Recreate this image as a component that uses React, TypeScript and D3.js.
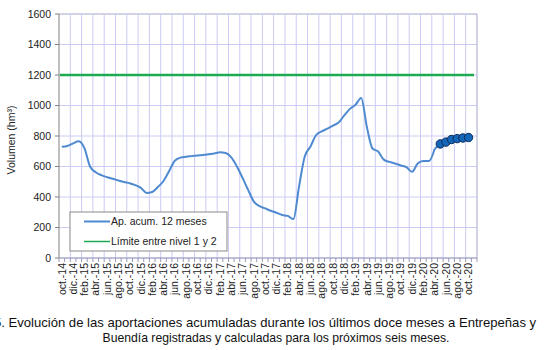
import React from "react";
import * as d3 from "d3";

const monthNames = ["oct.", "nov.", "dic.", "ene.", "feb.", "mar.", "abr.", "may.", "jun.", "jul.", "ago.", "sep."];
const startYear = 14;
const totalMonths = 74; // oct-14 .. nov-20 (axis span)

const historic: number[] = [
  730, 735, 752, 765, 720, 600, 562, 543, 530, 520, 508, 498,
  490, 478, 460, 427, 433, 465, 505, 570, 638, 658, 664, 668,
  672, 676, 680, 686, 693, 688, 660, 600, 525, 445, 370, 340,
  325, 310, 297, 282, 276, 255, 470, 665, 730, 805, 830, 848,
  868, 888, 935, 978, 1005, 1050, 860, 718, 698, 645, 630, 620,
  607, 596, 565, 620, 636, 636, 715,
];
const forecast: number[] = [748, 760, 777, 783, 787, 790];
const limitValue = 1200;
const yTicks = [0, 200, 400, 600, 800, 1000, 1200, 1400, 1600];

const legendLabels = ["Ap. acum. 12 meses", "Límite entre nivel 1 y 2"];
const captionLines = [
  "5. Evolución de las aportaciones acumuladas durante los últimos doce meses a Entrepeñas y",
  "Buendía registradas y calculadas para los próximos seis meses.",
];
const yTitle = "Volumen (hm³)";

function monthLabel(i: number) {
  const m = i % 12;
  const yr = startYear + Math.floor((i + 9) / 12);
  return `${monthNames[m]}-${yr}`;
}

export default function App() {
  const W = 545, H = 350;
  const x = d3.scaleLinear().domain([0, totalMonths]).range([59, 477]);
  const y = d3.scaleLinear().domain([0, 1600]).range([258, 14]);
  const cx = (i: number) => x(i + 0.5);

  const histPts: [number, number][] = historic.map((v, i) => [cx(i), y(v)]);
  const fcStart = historic.length;
  const fcPts: [number, number][] = [
    [cx(fcStart - 1), y(historic[historic.length - 1])],
    ...forecast.map((v, j) => [cx(fcStart + j), y(v)] as [number, number]),
  ];
  const line = d3.line().curve(d3.curveMonotoneX);

  const gridX = d3.range(2, totalMonths + 1, 2);
  const monthTicks = d3.range(0, totalMonths + 1);
  const labelIdx = d3.range(0, historic.length + forecast.length, 2);

  const font = "'Liberation Sans', Arial, sans-serif";
  const gridColor = "#cbcbf6";
  const blue = "#4f8ad0";
  const green = "#1eaa50";

  return (
    <svg width={W} height={H} style={{ position: "absolute", left: 0, top: 0, background: "#fff" }} fontFamily={font}>
      {yTicks.map((t) => (
        <line key={"h" + t} x1={x(0)} x2={x(totalMonths)} y1={y(t)} y2={y(t)} stroke={t === 1600 ? "#a6a6cc" : gridColor} strokeWidth={1} />
      ))}
      {gridX.map((k) => (
        <line key={"v" + k} x1={x(k)} x2={x(k)} y1={y(1600)} y2={y(0)} stroke={k === totalMonths ? "#a6a6cc" : gridColor} strokeWidth={1} />
      ))}
      <line x1={x(0)} x2={x(0)} y1={y(1600)} y2={y(0)} stroke="#808080" strokeWidth={1} />
      <line x1={x(0)} x2={x(totalMonths)} y1={y(0)} y2={y(0)} stroke="#9a9ab8" strokeWidth={1} />
      {yTicks.map((t) => (
        <g key={"yt" + t}>
          <line x1={x(0) - 4} x2={x(0)} y1={y(t)} y2={y(t)} stroke="#808080" />
          <text x={x(0) - 8} y={y(t)} dy="0.35em" textAnchor="end" fontSize={10.5} fill="#222">{t}</text>
        </g>
      ))}
      {monthTicks.map((k) => (
        <line key={"mt" + k} x1={x(k)} x2={x(k)} y1={y(0)} y2={y(0) + 4} stroke="#9a9ab8" />
      ))}
      {labelIdx.map((i) => (
        <text key={"xl" + i} transform={`translate(${cx(i)},${y(0) + 5}) rotate(-90)`} dy="0.35em" textAnchor="end" fontSize={10.5} fill="#222">
          {monthLabel(i)}
        </text>
      ))}
      <text transform={`translate(15,${y(800) + 4}) rotate(-90)`} textAnchor="middle" fontSize={10.5} fill="#222">{yTitle}</text>

      <line x1={x(0) + 1} x2={x(totalMonths) - 3} y1={y(limitValue)} y2={y(limitValue)} stroke={green} strokeWidth={2.5} />

      <path d={line(histPts) || ""} fill="none" stroke={blue} strokeWidth={2} />
      <path d={line(fcPts) || ""} fill="none" stroke={blue} strokeWidth={2} />
      {forecast.map((v, j) => (
        <circle key={"c" + j} cx={cx(fcStart + j)} cy={y(v)} r={4.2} fill="#1565b8" stroke="#0b2d5c" strokeWidth={1} />
      ))}

      <rect x={70} y={212} width={157} height={39} fill="#fff" stroke="#8a8a8a" strokeWidth={1} />
      <line x1={84} x2={110} y1={221.5} y2={221.5} stroke={blue} strokeWidth={2} />
      <text x={111} y={221.5} dy="0.35em" fontSize={10.5} fill="#222">{legendLabels[0]}</text>
      <line x1={84} x2={110} y1={241.5} y2={241.5} stroke={green} strokeWidth={1.5} />
      <text x={111} y={241.5} dy="0.35em" fontSize={10.5} fill="#222">{legendLabels[1]}</text>

      <text x={265} y={327} textAnchor="middle" fontSize={13.1} fill="#111">{captionLines[0]}</text>
      <text x={276} y={342} textAnchor="middle" fontSize={12.2} fill="#111">{captionLines[1]}</text>
    </svg>
  );
}
